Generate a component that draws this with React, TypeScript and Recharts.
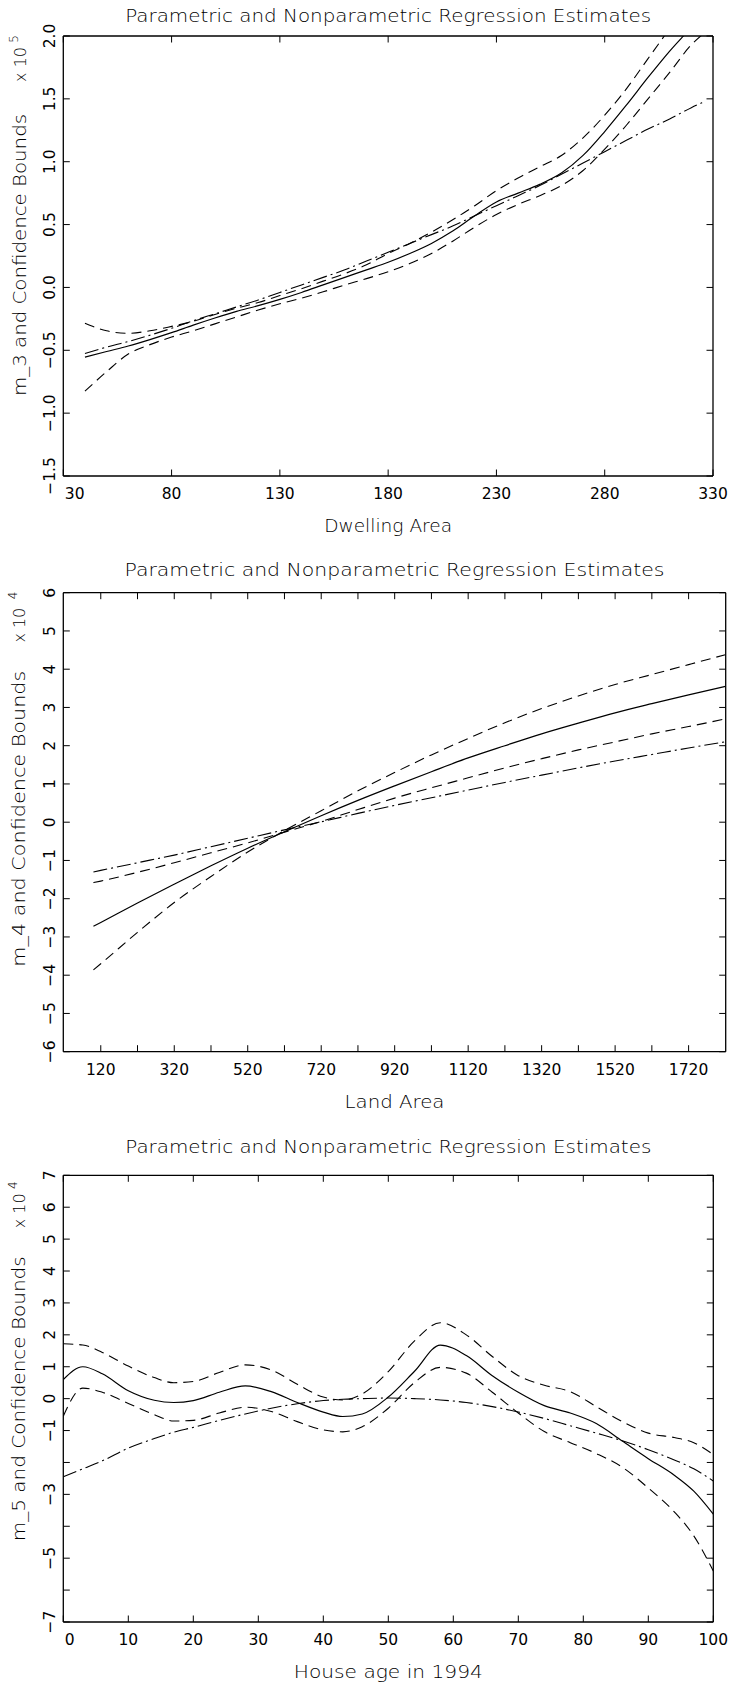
import React from 'react';
import { LineChart, Line, XAxis, YAxis } from 'recharts';

// Panel 1: dwelling area (values in units of 1e5)
const dwellX = [40, 50, 60, 70, 80, 90, 100, 110, 120, 130, 140, 150, 160, 170, 180, 190, 200, 210, 220, 230, 240, 250, 260, 270, 280, 290, 300, 310, 320, 325];
const dwellFit = [-0.555, -0.51, -0.466, -0.415, -0.36, -0.3, -0.243, -0.19, -0.145, -0.095, -0.04, 0.02, 0.08, 0.14, 0.2, 0.27, 0.35, 0.45, 0.57, 0.68, 0.75, 0.82, 0.91, 1.05, 1.24, 1.45, 1.67, 1.88, 2.07, 2.17];
const dwellUpper = [-0.285, -0.345, -0.365, -0.345, -0.31, -0.27, -0.215, -0.165, -0.12, -0.065, -0.01, 0.05, 0.11, 0.18, 0.27, 0.35, 0.44, 0.54, 0.65, 0.77, 0.87, 0.96, 1.05, 1.19, 1.37, 1.58, 1.82, 2.06, 2.3, 2.42];
const dwellLower = [-0.825, -0.67, -0.53, -0.455, -0.395, -0.345, -0.29, -0.235, -0.18, -0.13, -0.085, -0.035, 0.02, 0.07, 0.125, 0.19, 0.27, 0.37, 0.48, 0.58, 0.66, 0.73, 0.81, 0.93, 1.1, 1.29, 1.5, 1.71, 1.93, 2.01];
const dwellParam = [-0.525, -0.475, -0.43, -0.38, -0.325, -0.265, -0.21, -0.155, -0.1, -0.04, 0.02, 0.08, 0.14, 0.21, 0.28, 0.35, 0.42, 0.49, 0.57, 0.65, 0.73, 0.81, 0.9, 0.99, 1.08, 1.17, 1.26, 1.34, 1.43, 1.47];
const dwellXTicks = [30, 80, 130, 180, 230, 280, 330];
const dwellYTicks = [-1.5, -1, -0.5, 0, 0.5, 1, 1.5, 2];

// Panel 2: land area (values in units of 1e4)
const landX = [100, 120, 220, 320, 420, 520, 620, 720, 820, 920, 1020, 1120, 1220, 1320, 1420, 1520, 1620, 1720, 1820];
const landFit = [-2.72, -2.62, -2.11, -1.62, -1.14, -0.68, -0.25, 0.17, 0.57, 0.95, 1.32, 1.68, 2.0, 2.31, 2.59, 2.86, 3.1, 3.33, 3.55];
const landUpper = [-3.86, -3.7, -2.88, -2.1, -1.42, -0.78, -0.22, 0.3, 0.82, 1.3, 1.76, 2.19, 2.6, 2.97, 3.3, 3.6, 3.86, 4.12, 4.38];
const landLower = [-1.58, -1.54, -1.31, -1.06, -0.8, -0.54, -0.26, 0.02, 0.33, 0.63, 0.9, 1.16, 1.42, 1.66, 1.89, 2.1, 2.31, 2.5, 2.7];
const landParam = [-1.3, -1.26, -1.06, -0.86, -0.64, -0.42, -0.2, 0.01, 0.23, 0.44, 0.64, 0.84, 1.04, 1.23, 1.42, 1.6, 1.77, 1.94, 2.1];
const landXTicks = [120, 220, 320, 420, 520, 620, 720, 820, 920, 1020, 1120, 1220, 1320, 1420, 1520, 1620, 1720];
const landXLabels = [120, 320, 520, 720, 920, 1120, 1320, 1520, 1720];
const landYTicks = [-6, -5, -4, -3, -2, -1, 0, 1, 2, 3, 4, 5, 6];

// Panel 3: house age (values in units of 1e4)
const ageX = [0, 3, 6, 10, 14, 17, 20, 24, 28, 32, 36, 40, 43, 46, 50, 54, 58, 62, 66, 70, 74, 78, 82, 86, 90, 94, 97, 100];
const ageFit = [0.6, 1.0, 0.78, 0.25, -0.05, -0.12, -0.06, 0.2, 0.4, 0.22, -0.12, -0.42, -0.56, -0.48, 0.05, 0.85, 1.68, 1.35, 0.72, 0.2, -0.22, -0.45, -0.78, -1.33, -1.88, -2.4, -2.9, -3.62];
const ageUpper = [1.72, 1.68, 1.45, 1.02, 0.66, 0.5, 0.54, 0.82, 1.06, 0.9, 0.45, 0.05, -0.04, 0.15, 0.85, 1.8, 2.38, 2.0, 1.32, 0.72, 0.42, 0.22, -0.25, -0.72, -1.08, -1.22, -1.38, -1.75];
const ageLower = [-0.55, 0.33, 0.2, -0.15, -0.5, -0.7, -0.68, -0.45, -0.27, -0.4, -0.72, -0.98, -1.04, -0.88, -0.3, 0.5, 0.98, 0.8, 0.2, -0.45, -1.03, -1.38, -1.72, -2.15, -2.8, -3.55, -4.3, -5.4];
const ageParam = [-2.45, -2.2, -1.95, -1.55, -1.25, -1.05, -0.9, -0.68, -0.48, -0.3, -0.16, -0.06, -0.02, 0.0, 0.02, 0.0, -0.04, -0.12, -0.25, -0.42, -0.62, -0.85, -1.08, -1.32, -1.6, -1.92, -2.2, -2.58];
const ageXTicks = [0, 10, 20, 30, 40, 50, 60, 70, 80, 90, 100];
const ageYTicks = [-7, -6, -5, -4, -3, -2, -1, 0, 1, 2, 3, 4, 5, 6, 7];
const ageYLabels = [-7, -5, -3, -1, 0, 1, 2, 3, 4, 5, 6, 7];

const TITLE = 'Parametric and Nonparametric Regression Estimates';

const W = 729;
const Y_AXIS_W = 63.3;
const EDGE = 1; // thickness reserved for the top and right frame axes
const TICK = 6.5;
const INK = '#000';
const FONT = "'DejaVu Sans', 'Liberation Sans', sans-serif";

const rows = (xs: number[], fit: number[], upper: number[], lower: number[], param: number[]) =>
  xs.map((x, i) => ({ x, fit: fit[i], upper: upper[i], lower: lower[i], param: param[i] }));

const minus = (s: string) => s.replace('-', '\u2212');

// plot box of each panel, in panel pixels: top, bottom, right (left is Y_AXIS_W)
const panels = [
  {
    data: rows(dwellX, dwellFit, dwellUpper, dwellLower, dwellParam),
    xDomain: [30, 330], yDomain: [-1.5, 2.0],
    xTicks: dwellXTicks, xLabels: dwellXTicks, yTicks: dwellYTicks, yLabels: dwellYTicks,
    fmtY: (v: number) => minus(v.toFixed(1)),
    xTitle: 'Dwelling Area', yName: 'm_3', exponent: '5',
    top: 0, height: 560, plotTop: 36, plotBottom: 476, plotRight: 713,
    titleLen: 526, titleGap: 14, xTitleLen: 128, yEnd: 78, yLen: 282, expEnd: 11, supEnd: -1,
  },
  {
    data: rows(landX, landFit, landUpper, landLower, landParam),
    xDomain: [18, 1821], yDomain: [-6, 6],
    xTicks: landXTicks, xLabels: landXLabels, yTicks: landYTicks, yLabels: landYTicks,
    fmtY: (v: number) => minus(String(v)),
    xTitle: 'Land Area', yName: 'm_4', exponent: '4',
    top: 550, height: 575, plotTop: 42.7, plotBottom: 501.7, plotRight: 725.7,
    titleLen: 540, titleGap: 16.7, xTitleLen: 100, yEnd: 78, yLen: 296, expEnd: 15, supEnd: -1,
  },
  {
    data: rows(ageX, ageFit, ageUpper, ageLower, ageParam),
    xDomain: [0, 100], yDomain: [-7, 7],
    xTicks: ageXTicks, xLabels: ageXTicks, yTicks: ageYTicks, yLabels: ageYLabels,
    fmtY: (v: number) => minus(String(v)),
    xTitle: 'House age in 1994', yName: 'm_5', exponent: '4',
    top: 1110, height: 574, plotTop: 65.3, plotBottom: 512, plotRight: 713.3,
    titleLen: 526, titleGap: 22, xTitleLen: 189, yEnd: 81, yLen: 285, expEnd: 18, supEnd: 6,
  },
];

type Spec = (typeof panels)[number];

function Panel({ spec }: { spec: Spec }) {
  const plotLeft = Y_AXIS_W;
  const { plotTop, plotBottom, plotRight } = spec;
  const xAxisH = 60;
  const margin = {
    top: plotTop - EDGE,
    right: W - plotRight - EDGE,
    left: 0,
    bottom: spec.height - plotBottom - xAxisH,
  };
  const cx = (plotLeft + plotRight) / 2;
  const axisLine = { stroke: INK, strokeWidth: 1.3 };

  const bottomTick = (p: any) => {
    const v = p.payload.value;
    const first = v === spec.xDomain[0];
    return (
      <g>
        <line x1={p.x} y1={p.y} x2={p.x} y2={p.y - TICK} stroke={INK} />
        {spec.xLabels.includes(v) && (
          <text x={first ? p.x + 1.5 : p.x} y={p.y + 23} textAnchor={first ? 'start' : 'middle'}
            fontSize={15.5} fontFamily={FONT} fill={INK}>{v}</text>
        )}
      </g>
    );
  };
  const topTick = (p: any) => <line x1={p.x} y1={p.y} x2={p.x} y2={p.y + TICK} stroke={INK} />;
  const rightTick = (p: any) => <line x1={p.x} y1={p.y} x2={p.x - TICK} y2={p.y} stroke={INK} />;
  const leftTick = (p: any) => {
    const v = p.payload.value;
    const tx = p.x - 8;
    return (
      <g>
        <line x1={p.x} y1={p.y} x2={p.x + TICK} y2={p.y} stroke={INK} />
        {spec.yLabels.includes(v) && (
          <text x={tx} y={p.y} transform={`rotate(-90 ${tx} ${p.y})`} textAnchor="middle"
            fontSize={15.5} fontFamily={FONT} fill={INK}>{spec.fmtY(v)}</text>
        )}
      </g>
    );
  };

  const title = () => (
    <text x={cx} y={plotTop - spec.titleGap} textAnchor="middle" fontSize={18} fontFamily={FONT}
      fontWeight={300} fill={INK} textLength={spec.titleLen} lengthAdjust="spacingAndGlyphs">{TITLE}</text>
  );
  const xTitle = () => (
    <text x={cx} y={plotBottom + 56} textAnchor="middle" fontSize={18} fontFamily={FONT}
      fontWeight={300} fill={INK} textLength={spec.xTitleLen} lengthAdjust="spacingAndGlyphs">{spec.xTitle}</text>
  );
  const yTitle = () => {
    const bx = 25.5;
    const y1 = plotTop + spec.yEnd;
    const y2 = plotTop + spec.expEnd;
    const y3 = plotTop + spec.supEnd;
    return (
      <g fontFamily={FONT} fill={INK} fontWeight={300}>
        <text x={bx} y={y1} transform={`rotate(-90 ${bx} ${y1})`} textAnchor="end" fontSize={17}
          textLength={spec.yLen} lengthAdjust="spacingAndGlyphs">{`${spec.yName} and Confidence Bounds`}</text>
        <text x={bx} y={y2} transform={`rotate(-90 ${bx} ${y2})`} textAnchor="end" fontSize={16}>x 10</text>
        <text x={bx - 8} y={y3} transform={`rotate(-90 ${bx - 8} ${y3})`} textAnchor="end" fontSize={12}>{spec.exponent}</text>
      </g>
    );
  };

  return (
    <div style={{ position: 'absolute', left: 0, top: spec.top, width: W, height: spec.height }}>
      <LineChart width={W} height={spec.height} data={spec.data} margin={margin}>
        <XAxis dataKey="x" type="number" domain={spec.xDomain} ticks={spec.xTicks} interval={0}
          allowDataOverflow height={xAxisH} axisLine={axisLine} tickLine={false} tickSize={0}
          tickMargin={0} tick={bottomTick} label={{ content: xTitle }} />
        <XAxis xAxisId="t" dataKey="x" orientation="top" type="number" domain={spec.xDomain}
          ticks={spec.xTicks} interval={0} allowDataOverflow height={EDGE} axisLine={axisLine}
          tickLine={false} tickSize={0} tickMargin={0} tick={topTick} label={{ content: title }} />
        <YAxis type="number" domain={spec.yDomain} ticks={spec.yTicks} interval={0} allowDataOverflow
          width={Y_AXIS_W} axisLine={axisLine} tickLine={false} tickSize={0} tickMargin={0}
          tick={leftTick} label={{ content: yTitle }} />
        <YAxis yAxisId="r" orientation="right" type="number" domain={spec.yDomain} ticks={spec.yTicks}
          interval={0} allowDataOverflow width={EDGE} axisLine={axisLine} tickLine={false} tickSize={0}
          tickMargin={0} tick={rightTick} />
        <Line xAxisId="t" yAxisId="r" dataKey="param" type="monotone" stroke={INK} strokeWidth={1.1}
          strokeDasharray="14 4 2 4" dot={false} activeDot={false} isAnimationActive={false} />
        <Line dataKey="upper" type="monotone" stroke={INK} strokeWidth={1.1} strokeDasharray="10 6"
          dot={false} activeDot={false} isAnimationActive={false} />
        <Line dataKey="lower" type="monotone" stroke={INK} strokeWidth={1.1} strokeDasharray="10 6"
          dot={false} activeDot={false} isAnimationActive={false} />
        <Line dataKey="fit" type="monotone" stroke={INK} strokeWidth={1.2}
          dot={false} activeDot={false} isAnimationActive={false} />
      </LineChart>
    </div>
  );
}

export default function App() {
  return (
    <div style={{ position: 'absolute', left: 0, top: 0, width: W, height: 1684, background: '#fff' }}>
      {panels.map((spec, i) => (
        <Panel key={i} spec={spec} />
      ))}
    </div>
  );
}
